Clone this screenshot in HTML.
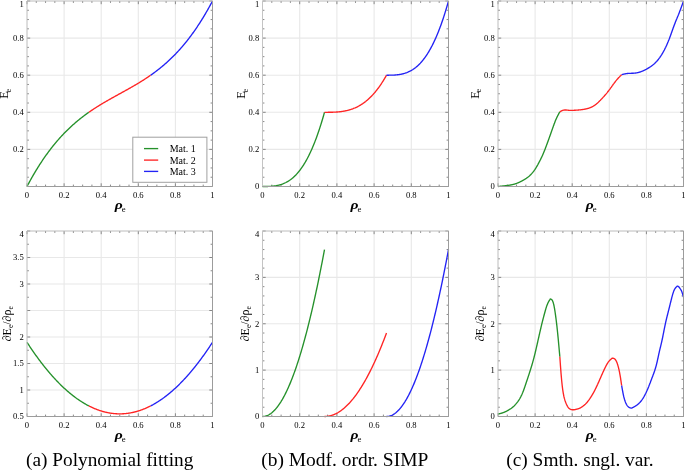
<!DOCTYPE html>
<html><head><meta charset="utf-8"><style>
html,body{margin:0;padding:0;background:#fff;overflow:hidden;width:685px;height:470px;}
svg{display:block;will-change:transform;}
text{font-family:"Liberation Serif",serif;fill:#000;}
.tk{font-size:8.6px;fill:#000;}
.rho{font-size:13.5px;font-weight:bold;font-style:italic;}
.rsub{font-size:8.8px;}
.yl{font-size:12.5px;}
.yl .sub{font-size:8.8px;}
.yd{font-size:12px;}
.yd .sub{font-size:7.5px;}
.lg{font-size:10px;}
.cap{font-size:18px;}
</style></head><body>
<svg width="685" height="470" viewBox="0 0 685 470">
<rect width="685" height="470" fill="#fff"/>
<line x1="64.10" y1="1.00" x2="64.10" y2="186.50" stroke="#e8e8e8" stroke-width="1.1"/>
<line x1="101.20" y1="1.00" x2="101.20" y2="186.50" stroke="#e8e8e8" stroke-width="1.1"/>
<line x1="138.30" y1="1.00" x2="138.30" y2="186.50" stroke="#e8e8e8" stroke-width="1.1"/>
<line x1="175.40" y1="1.00" x2="175.40" y2="186.50" stroke="#e8e8e8" stroke-width="1.1"/>
<line x1="27.00" y1="149.40" x2="212.50" y2="149.40" stroke="#e8e8e8" stroke-width="1.1"/>
<line x1="27.00" y1="112.30" x2="212.50" y2="112.30" stroke="#e8e8e8" stroke-width="1.1"/>
<line x1="27.00" y1="75.20" x2="212.50" y2="75.20" stroke="#e8e8e8" stroke-width="1.1"/>
<line x1="27.00" y1="38.10" x2="212.50" y2="38.10" stroke="#e8e8e8" stroke-width="1.1"/>
<path d="M27.00 186.50v-3.2M27.00 1.00v3.2M36.27 186.50v-1.9M36.27 1.00v1.9M45.55 186.50v-1.9M45.55 1.00v1.9M54.83 186.50v-1.9M54.83 1.00v1.9M64.10 186.50v-3.2M64.10 1.00v3.2M73.38 186.50v-1.9M73.38 1.00v1.9M82.65 186.50v-1.9M82.65 1.00v1.9M91.92 186.50v-1.9M91.92 1.00v1.9M101.20 186.50v-3.2M101.20 1.00v3.2M110.48 186.50v-1.9M110.48 1.00v1.9M119.75 186.50v-1.9M119.75 1.00v1.9M129.03 186.50v-1.9M129.03 1.00v1.9M138.30 186.50v-3.2M138.30 1.00v3.2M147.57 186.50v-1.9M147.57 1.00v1.9M156.85 186.50v-1.9M156.85 1.00v1.9M166.12 186.50v-1.9M166.12 1.00v1.9M175.40 186.50v-3.2M175.40 1.00v3.2M184.67 186.50v-1.9M184.67 1.00v1.9M193.95 186.50v-1.9M193.95 1.00v1.9M203.22 186.50v-1.9M203.22 1.00v1.9M212.50 186.50v-3.2M212.50 1.00v3.2M27.00 177.22h1.9M212.50 177.22h-1.9M27.00 167.95h1.9M212.50 167.95h-1.9M27.00 158.68h1.9M212.50 158.68h-1.9M27.00 140.12h1.9M212.50 140.12h-1.9M27.00 130.85h1.9M212.50 130.85h-1.9M27.00 121.57h1.9M212.50 121.57h-1.9M27.00 103.02h1.9M212.50 103.02h-1.9M27.00 93.75h1.9M212.50 93.75h-1.9M27.00 84.47h1.9M212.50 84.47h-1.9M27.00 65.92h1.9M212.50 65.92h-1.9M27.00 56.65h1.9M212.50 56.65h-1.9M27.00 47.38h1.9M212.50 47.38h-1.9M27.00 28.82h1.9M212.50 28.82h-1.9M27.00 19.55h1.9M212.50 19.55h-1.9M27.00 10.27h1.9M212.50 10.27h-1.9M27.00 149.40h3.2M212.50 149.40h-3.2M27.00 112.30h3.2M212.50 112.30h-3.2M27.00 75.20h3.2M212.50 75.20h-3.2M27.00 38.10h3.2M212.50 38.10h-3.2M27.00 1.00h3.2M212.50 1.00h-3.2" stroke="#7c7c7c" stroke-width="0.9" fill="none"/>
<polyline points="27.00,186.50 27.52,185.52 28.04,184.54 28.56,183.57 29.08,182.61 29.60,181.66 30.12,180.72 30.64,179.78 31.16,178.85 31.68,177.93 32.20,177.01 32.72,176.11 33.24,175.21 33.75,174.31 34.27,173.43 34.79,172.55 35.31,171.68 35.83,170.82 36.35,169.96 36.87,169.11 37.39,168.27 37.91,167.43 38.43,166.60 38.95,165.78 39.47,164.97 39.99,164.16 40.51,163.36 41.03,162.56 41.55,161.78 42.07,161.00 42.59,160.22 43.11,159.45 43.63,158.69 44.15,157.94 44.67,157.19 45.19,156.45 45.71,155.71 46.23,154.98 46.75,154.26 47.26,153.54 47.78,152.83 48.30,152.12 48.82,151.42 49.34,150.73 49.86,150.04 50.38,149.36 50.90,148.69 51.42,148.02 51.94,147.35 52.46,146.70 52.98,146.04 53.50,145.40 54.02,144.76 54.54,144.12 55.06,143.49 55.58,142.87 56.10,142.25 56.62,141.64 57.14,141.03 57.66,140.42 58.18,139.83 58.70,139.23 59.22,138.65 59.74,138.07 60.25,137.49 60.77,136.92 61.29,136.35 61.81,135.79 62.33,135.23 62.85,134.68 63.37,134.13 63.89,133.59 64.41,133.05 64.93,132.52 65.45,131.99 65.97,131.47 66.49,130.95 67.01,130.43 67.53,129.92 68.05,129.41 68.57,128.91 69.09,128.42 69.61,127.92 70.13,127.43 70.65,126.95 71.17,126.47 71.69,125.99 72.21,125.52 72.73,125.05 73.25,124.59 73.76,124.13 74.28,123.67 74.80,123.22 75.32,122.77 75.84,122.33 76.36,121.89 76.88,121.45 77.40,121.01 77.92,120.58 78.44,120.16 78.96,119.73 79.48,119.31 80.00,118.90 80.52,118.49 81.04,118.08 81.56,117.67 82.08,117.27 82.60,116.87 83.12,116.47 83.64,116.08 84.16,115.68 84.68,115.30 85.20,114.91 85.72,114.53 86.24,114.15 86.75,113.78 87.27,113.40 87.79,113.03 88.31,112.67 88.83,112.30" fill="none" stroke="#25912b" stroke-width="1.35" stroke-linejoin="round" stroke-linecap="butt"/>
<polyline points="88.83,112.30 89.35,111.94 89.87,111.58 90.39,111.22 90.91,110.87 91.43,110.51 91.95,110.16 92.47,109.82 92.99,109.47 93.51,109.13 94.03,108.79 94.55,108.45 95.07,108.11 95.59,107.78 96.11,107.44 96.63,107.11 97.15,106.79 97.67,106.46 98.19,106.13 98.71,105.81 99.23,105.49 99.75,105.17 100.26,104.85 100.78,104.54 101.30,104.22 101.82,103.91 102.34,103.60 102.86,103.29 103.38,102.98 103.90,102.67 104.42,102.37 104.94,102.06 105.46,101.76 105.98,101.46 106.50,101.16 107.02,100.86 107.54,100.56 108.06,100.26 108.58,99.97 109.10,99.67 109.62,99.38 110.14,99.08 110.66,98.79 111.18,98.50 111.70,98.21 112.22,97.92 112.74,97.63 113.25,97.34 113.77,97.05 114.29,96.76 114.81,96.47 115.33,96.18 115.85,95.90 116.37,95.61 116.89,95.32 117.41,95.04 117.93,94.75 118.45,94.46 118.97,94.18 119.49,93.89 120.01,93.61 120.53,93.32 121.05,93.04 121.57,92.75 122.09,92.46 122.61,92.18 123.13,91.89 123.65,91.60 124.17,91.32 124.69,91.03 125.21,90.74 125.73,90.45 126.25,90.16 126.76,89.87 127.28,89.58 127.80,89.29 128.32,89.00 128.84,88.71 129.36,88.42 129.88,88.12 130.40,87.83 130.92,87.53 131.44,87.24 131.96,86.94 132.48,86.64 133.00,86.34 133.52,86.04 134.04,85.74 134.56,85.44 135.08,85.13 135.60,84.83 136.12,84.52 136.64,84.21 137.16,83.90 137.68,83.59 138.20,83.28 138.72,82.96 139.24,82.65 139.75,82.33 140.27,82.01 140.79,81.69 141.31,81.37 141.83,81.04 142.35,80.71 142.87,80.39 143.39,80.06 143.91,79.72 144.43,79.39 144.95,79.05 145.47,78.71 145.99,78.37 146.51,78.03 147.03,77.68 147.55,77.34 148.07,76.99 148.59,76.63 149.11,76.28 149.63,75.92 150.15,75.56 150.67,75.20" fill="none" stroke="#ff2424" stroke-width="1.35" stroke-linejoin="round" stroke-linecap="butt"/>
<polyline points="150.67,75.20 151.19,74.83 151.71,74.47 152.23,74.10 152.75,73.72 153.26,73.35 153.78,72.97 154.30,72.59 154.82,72.20 155.34,71.82 155.86,71.42 156.38,71.03 156.90,70.63 157.42,70.23 157.94,69.83 158.46,69.42 158.98,69.01 159.50,68.60 160.02,68.19 160.54,67.77 161.06,67.34 161.58,66.92 162.10,66.49 162.62,66.05 163.14,65.61 163.66,65.17 164.18,64.73 164.70,64.28 165.22,63.83 165.74,63.37 166.25,62.91 166.77,62.45 167.29,61.98 167.81,61.51 168.33,61.03 168.85,60.55 169.37,60.07 169.89,59.58 170.41,59.08 170.93,58.59 171.45,58.09 171.97,57.58 172.49,57.07 173.01,56.55 173.53,56.03 174.05,55.51 174.57,54.98 175.09,54.45 175.61,53.91 176.13,53.37 176.65,52.82 177.17,52.27 177.69,51.71 178.21,51.15 178.73,50.58 179.25,50.01 179.76,49.43 180.28,48.85 180.80,48.27 181.32,47.67 181.84,47.08 182.36,46.47 182.88,45.86 183.40,45.25 183.92,44.63 184.44,44.01 184.96,43.38 185.48,42.74 186.00,42.10 186.52,41.46 187.04,40.80 187.56,40.15 188.08,39.48 188.60,38.81 189.12,38.14 189.64,37.46 190.16,36.77 190.68,36.08 191.20,35.38 191.72,34.67 192.24,33.96 192.75,33.24 193.27,32.52 193.79,31.79 194.31,31.05 194.83,30.31 195.35,29.56 195.87,28.81 196.39,28.05 196.91,27.28 197.43,26.50 197.95,25.72 198.47,24.94 198.99,24.14 199.51,23.34 200.03,22.53 200.55,21.72 201.07,20.90 201.59,20.07 202.11,19.23 202.63,18.39 203.15,17.54 203.67,16.68 204.19,15.82 204.71,14.95 205.23,14.07 205.75,13.19 206.26,12.29 206.78,11.39 207.30,10.49 207.82,9.57 208.34,8.65 208.86,7.72 209.38,6.78 209.90,5.84 210.42,4.89 210.94,3.93 211.46,2.96 211.98,1.98 212.50,1.00" fill="none" stroke="#2323f5" stroke-width="1.35" stroke-linejoin="round" stroke-linecap="butt"/>
<line x1="27.00" y1="1.00" x2="212.50" y2="1.00" stroke="#bcbcbc" stroke-width="1"/>
<line x1="27.00" y1="1.00" x2="27.00" y2="186.50" stroke="#bcbcbc" stroke-width="1"/>
<line x1="27.00" y1="186.50" x2="212.50" y2="186.50" stroke="#9c9c9c" stroke-width="1"/>
<line x1="212.50" y1="1.00" x2="212.50" y2="186.50" stroke="#9c9c9c" stroke-width="1"/>
<text x="27.00" y="197.70" class="tk" text-anchor="middle">0</text>
<text x="64.10" y="197.70" class="tk" text-anchor="middle">0.2</text>
<text x="101.20" y="197.70" class="tk" text-anchor="middle">0.4</text>
<text x="138.30" y="197.70" class="tk" text-anchor="middle">0.6</text>
<text x="175.40" y="197.70" class="tk" text-anchor="middle">0.8</text>
<text x="212.50" y="197.70" class="tk" text-anchor="middle">1</text>
<text x="23.80" y="152.30" class="tk" text-anchor="end">0.2</text>
<text x="23.80" y="115.20" class="tk" text-anchor="end">0.4</text>
<text x="23.80" y="78.10" class="tk" text-anchor="end">0.6</text>
<text x="23.80" y="41.00" class="tk" text-anchor="end">0.8</text>
<text x="23.80" y="6.60" class="tk" text-anchor="end">1</text>
<text transform="translate(114.75,208.80) scale(1.15,1)" class="rho">&#x3C1;</text>
<text x="121.65" y="211.50" class="rsub">e</text>
<text transform="translate(8.00,93.75) rotate(-90)" class="yl" text-anchor="middle">E<tspan class="sub" dy="2.9" dx="-1.3">e</tspan></text>
<line x1="299.70" y1="1.00" x2="299.70" y2="186.50" stroke="#e8e8e8" stroke-width="1.1"/>
<line x1="336.90" y1="1.00" x2="336.90" y2="186.50" stroke="#e8e8e8" stroke-width="1.1"/>
<line x1="374.10" y1="1.00" x2="374.10" y2="186.50" stroke="#e8e8e8" stroke-width="1.1"/>
<line x1="411.30" y1="1.00" x2="411.30" y2="186.50" stroke="#e8e8e8" stroke-width="1.1"/>
<line x1="262.50" y1="149.40" x2="448.50" y2="149.40" stroke="#e8e8e8" stroke-width="1.1"/>
<line x1="262.50" y1="112.30" x2="448.50" y2="112.30" stroke="#e8e8e8" stroke-width="1.1"/>
<line x1="262.50" y1="75.20" x2="448.50" y2="75.20" stroke="#e8e8e8" stroke-width="1.1"/>
<line x1="262.50" y1="38.10" x2="448.50" y2="38.10" stroke="#e8e8e8" stroke-width="1.1"/>
<path d="M262.50 186.50v-3.2M262.50 1.00v3.2M271.80 186.50v-1.9M271.80 1.00v1.9M281.10 186.50v-1.9M281.10 1.00v1.9M290.40 186.50v-1.9M290.40 1.00v1.9M299.70 186.50v-3.2M299.70 1.00v3.2M309.00 186.50v-1.9M309.00 1.00v1.9M318.30 186.50v-1.9M318.30 1.00v1.9M327.60 186.50v-1.9M327.60 1.00v1.9M336.90 186.50v-3.2M336.90 1.00v3.2M346.20 186.50v-1.9M346.20 1.00v1.9M355.50 186.50v-1.9M355.50 1.00v1.9M364.80 186.50v-1.9M364.80 1.00v1.9M374.10 186.50v-3.2M374.10 1.00v3.2M383.40 186.50v-1.9M383.40 1.00v1.9M392.70 186.50v-1.9M392.70 1.00v1.9M402.00 186.50v-1.9M402.00 1.00v1.9M411.30 186.50v-3.2M411.30 1.00v3.2M420.60 186.50v-1.9M420.60 1.00v1.9M429.90 186.50v-1.9M429.90 1.00v1.9M439.20 186.50v-1.9M439.20 1.00v1.9M448.50 186.50v-3.2M448.50 1.00v3.2M262.50 177.22h1.9M448.50 177.22h-1.9M262.50 167.95h1.9M448.50 167.95h-1.9M262.50 158.68h1.9M448.50 158.68h-1.9M262.50 140.12h1.9M448.50 140.12h-1.9M262.50 130.85h1.9M448.50 130.85h-1.9M262.50 121.57h1.9M448.50 121.57h-1.9M262.50 103.02h1.9M448.50 103.02h-1.9M262.50 93.75h1.9M448.50 93.75h-1.9M262.50 84.47h1.9M448.50 84.47h-1.9M262.50 65.92h1.9M448.50 65.92h-1.9M262.50 56.65h1.9M448.50 56.65h-1.9M262.50 47.38h1.9M448.50 47.38h-1.9M262.50 28.82h1.9M448.50 28.82h-1.9M262.50 19.55h1.9M448.50 19.55h-1.9M262.50 10.27h1.9M448.50 10.27h-1.9M262.50 186.50h3.2M448.50 186.50h-3.2M262.50 149.40h3.2M448.50 149.40h-3.2M262.50 112.30h3.2M448.50 112.30h-3.2M262.50 75.20h3.2M448.50 75.20h-3.2M262.50 38.10h3.2M448.50 38.10h-3.2M262.50 1.00h3.2M448.50 1.00h-3.2" stroke="#7c7c7c" stroke-width="0.9" fill="none"/>
<polyline points="262.50,186.50 263.02,186.50 263.54,186.50 264.06,186.50 264.58,186.50 265.11,186.49 265.63,186.49 266.15,186.48 266.67,186.48 267.19,186.47 267.71,186.46 268.23,186.44 268.75,186.42 269.27,186.40 269.79,186.38 270.32,186.35 270.84,186.32 271.36,186.28 271.88,186.24 272.40,186.20 272.92,186.15 273.44,186.09 273.96,186.03 274.48,185.96 275.00,185.89 275.53,185.81 276.05,185.73 276.57,185.63 277.09,185.53 277.61,185.43 278.13,185.31 278.65,185.19 279.17,185.06 279.69,184.92 280.21,184.77 280.74,184.61 281.26,184.45 281.78,184.27 282.30,184.08 282.82,183.89 283.34,183.68 283.86,183.47 284.38,183.24 284.90,183.00 285.42,182.75 285.95,182.49 286.47,182.21 286.99,181.93 287.51,181.63 288.03,181.32 288.55,181.00 289.07,180.66 289.59,180.31 290.11,179.94 290.63,179.57 291.16,179.17 291.68,178.77 292.20,178.35 292.72,177.91 293.24,177.46 293.76,176.99 294.28,176.51 294.80,176.01 295.32,175.49 295.84,174.96 296.37,174.41 296.89,173.84 297.41,173.26 297.93,172.66 298.45,172.04 298.97,171.40 299.49,170.74 300.01,170.07 300.53,169.37 301.05,168.66 301.58,167.92 302.10,167.17 302.62,166.40 303.14,165.60 303.66,164.79 304.18,163.96 304.70,163.10 305.22,162.22 305.74,161.32 306.26,160.40 306.79,159.46 307.31,158.49 307.83,157.51 308.35,156.49 308.87,155.46 309.39,154.40 309.91,153.32 310.43,152.21 310.95,151.08 311.47,149.93 312.00,148.75 312.52,147.54 313.04,146.31 313.56,145.06 314.08,143.78 314.60,142.47 315.12,141.13 315.64,139.77 316.16,138.39 316.68,136.97 317.21,135.53 317.73,134.06 318.25,132.56 318.77,131.03 319.29,129.48 319.81,127.89 320.33,126.28 320.85,124.64 321.37,122.97 321.89,121.27 322.42,119.53 322.94,117.77 323.46,115.98 323.98,114.15 324.50,112.30" fill="none" stroke="#25912b" stroke-width="1.35" stroke-linejoin="round" stroke-linecap="butt"/>
<polyline points="324.50,112.30 325.02,112.30 325.54,112.30 326.06,112.30 326.58,112.30 327.11,112.30 327.63,112.30 328.15,112.29 328.67,112.29 329.19,112.28 329.71,112.28 330.23,112.27 330.75,112.26 331.27,112.25 331.79,112.24 332.32,112.23 332.84,112.21 333.36,112.19 333.88,112.17 334.40,112.15 334.92,112.12 335.44,112.10 335.96,112.07 336.48,112.03 337.00,112.00 337.53,111.96 338.05,111.91 338.57,111.87 339.09,111.82 339.61,111.76 340.13,111.71 340.65,111.64 341.17,111.58 341.69,111.51 342.21,111.43 342.74,111.36 343.26,111.27 343.78,111.18 344.30,111.09 344.82,110.99 345.34,110.89 345.86,110.78 346.38,110.67 346.90,110.55 347.42,110.42 347.95,110.29 348.47,110.16 348.99,110.01 349.51,109.87 350.03,109.71 350.55,109.55 351.07,109.38 351.59,109.20 352.11,109.02 352.63,108.83 353.16,108.64 353.68,108.43 354.20,108.22 354.72,108.00 355.24,107.78 355.76,107.54 356.28,107.30 356.80,107.05 357.32,106.80 357.84,106.53 358.37,106.25 358.89,105.97 359.41,105.68 359.93,105.38 360.45,105.07 360.97,104.75 361.49,104.42 362.01,104.08 362.53,103.74 363.05,103.38 363.58,103.01 364.10,102.64 364.62,102.25 365.14,101.85 365.66,101.45 366.18,101.03 366.70,100.60 367.22,100.16 367.74,99.71 368.26,99.25 368.79,98.78 369.31,98.30 369.83,97.80 370.35,97.30 370.87,96.78 371.39,96.25 371.91,95.71 372.43,95.16 372.95,94.59 373.47,94.01 374.00,93.42 374.52,92.82 375.04,92.21 375.56,91.58 376.08,90.94 376.60,90.28 377.12,89.62 377.64,88.94 378.16,88.24 378.68,87.54 379.21,86.81 379.73,86.08 380.25,85.33 380.77,84.57 381.29,83.79 381.81,83.00 382.33,82.19 382.85,81.37 383.37,80.53 383.89,79.68 384.42,78.82 384.94,77.94 385.46,77.04 385.98,76.13 386.50,75.20" fill="none" stroke="#ff2424" stroke-width="1.35" stroke-linejoin="round" stroke-linecap="butt"/>
<polyline points="386.50,75.20 387.02,75.20 387.54,75.20 388.06,75.20 388.58,75.20 389.11,75.19 389.63,75.19 390.15,75.18 390.67,75.18 391.19,75.17 391.71,75.16 392.23,75.14 392.75,75.12 393.27,75.10 393.79,75.08 394.32,75.05 394.84,75.02 395.36,74.98 395.88,74.94 396.40,74.90 396.92,74.85 397.44,74.79 397.96,74.73 398.48,74.66 399.00,74.59 399.53,74.51 400.05,74.43 400.57,74.33 401.09,74.23 401.61,74.13 402.13,74.01 402.65,73.89 403.17,73.76 403.69,73.62 404.21,73.47 404.74,73.31 405.26,73.15 405.78,72.97 406.30,72.78 406.82,72.59 407.34,72.38 407.86,72.17 408.38,71.94 408.90,71.70 409.42,71.45 409.95,71.19 410.47,70.91 410.99,70.63 411.51,70.33 412.03,70.02 412.55,69.70 413.07,69.36 413.59,69.01 414.11,68.64 414.63,68.27 415.16,67.87 415.68,67.47 416.20,67.05 416.72,66.61 417.24,66.16 417.76,65.69 418.28,65.21 418.80,64.71 419.32,64.19 419.84,63.66 420.37,63.11 420.89,62.54 421.41,61.96 421.93,61.36 422.45,60.74 422.97,60.10 423.49,59.44 424.01,58.77 424.53,58.07 425.05,57.36 425.58,56.62 426.10,55.87 426.62,55.10 427.14,54.30 427.66,53.49 428.18,52.66 428.70,51.80 429.22,50.92 429.74,50.02 430.26,49.10 430.79,48.16 431.31,47.19 431.83,46.21 432.35,45.19 432.87,44.16 433.39,43.10 433.91,42.02 434.43,40.91 434.95,39.78 435.47,38.63 436.00,37.45 436.52,36.24 437.04,35.01 437.56,33.76 438.08,32.48 438.60,31.17 439.12,29.83 439.64,28.47 440.16,27.09 440.68,25.67 441.21,24.23 441.73,22.76 442.25,21.26 442.77,19.73 443.29,18.18 443.81,16.59 444.33,14.98 444.85,13.34 445.37,11.67 445.89,9.97 446.42,8.23 446.94,6.47 447.46,4.68 447.98,2.85 448.50,1.00" fill="none" stroke="#2323f5" stroke-width="1.35" stroke-linejoin="round" stroke-linecap="butt"/>
<line x1="262.50" y1="1.00" x2="448.50" y2="1.00" stroke="#bcbcbc" stroke-width="1"/>
<line x1="262.50" y1="1.00" x2="262.50" y2="186.50" stroke="#c4c4c4" stroke-width="1"/>
<line x1="262.50" y1="186.50" x2="448.50" y2="186.50" stroke="#9c9c9c" stroke-width="1"/>
<line x1="448.50" y1="1.00" x2="448.50" y2="186.50" stroke="#9c9c9c" stroke-width="1"/>
<text x="262.50" y="197.70" class="tk" text-anchor="middle">0</text>
<text x="299.70" y="197.70" class="tk" text-anchor="middle">0.2</text>
<text x="336.90" y="197.70" class="tk" text-anchor="middle">0.4</text>
<text x="374.10" y="197.70" class="tk" text-anchor="middle">0.6</text>
<text x="411.30" y="197.70" class="tk" text-anchor="middle">0.8</text>
<text x="448.50" y="197.70" class="tk" text-anchor="middle">1</text>
<text x="259.30" y="189.40" class="tk" text-anchor="end">0</text>
<text x="259.30" y="152.30" class="tk" text-anchor="end">0.2</text>
<text x="259.30" y="115.20" class="tk" text-anchor="end">0.4</text>
<text x="259.30" y="78.10" class="tk" text-anchor="end">0.6</text>
<text x="259.30" y="41.00" class="tk" text-anchor="end">0.8</text>
<text x="259.30" y="6.60" class="tk" text-anchor="end">1</text>
<text transform="translate(350.50,208.80) scale(1.15,1)" class="rho">&#x3C1;</text>
<text x="357.40" y="211.50" class="rsub">e</text>
<text transform="translate(245.10,93.75) rotate(-90)" class="yl" text-anchor="middle">E<tspan class="sub" dy="2.9" dx="-1.3">e</tspan></text>
<line x1="535.10" y1="1.00" x2="535.10" y2="186.50" stroke="#e8e8e8" stroke-width="1.1"/>
<line x1="572.20" y1="1.00" x2="572.20" y2="186.50" stroke="#e8e8e8" stroke-width="1.1"/>
<line x1="609.30" y1="1.00" x2="609.30" y2="186.50" stroke="#e8e8e8" stroke-width="1.1"/>
<line x1="646.40" y1="1.00" x2="646.40" y2="186.50" stroke="#e8e8e8" stroke-width="1.1"/>
<line x1="498.00" y1="149.40" x2="683.50" y2="149.40" stroke="#e8e8e8" stroke-width="1.1"/>
<line x1="498.00" y1="112.30" x2="683.50" y2="112.30" stroke="#e8e8e8" stroke-width="1.1"/>
<line x1="498.00" y1="75.20" x2="683.50" y2="75.20" stroke="#e8e8e8" stroke-width="1.1"/>
<line x1="498.00" y1="38.10" x2="683.50" y2="38.10" stroke="#e8e8e8" stroke-width="1.1"/>
<path d="M498.00 186.50v-3.2M498.00 1.00v3.2M507.27 186.50v-1.9M507.27 1.00v1.9M516.55 186.50v-1.9M516.55 1.00v1.9M525.83 186.50v-1.9M525.83 1.00v1.9M535.10 186.50v-3.2M535.10 1.00v3.2M544.38 186.50v-1.9M544.38 1.00v1.9M553.65 186.50v-1.9M553.65 1.00v1.9M562.92 186.50v-1.9M562.92 1.00v1.9M572.20 186.50v-3.2M572.20 1.00v3.2M581.48 186.50v-1.9M581.48 1.00v1.9M590.75 186.50v-1.9M590.75 1.00v1.9M600.02 186.50v-1.9M600.02 1.00v1.9M609.30 186.50v-3.2M609.30 1.00v3.2M618.58 186.50v-1.9M618.58 1.00v1.9M627.85 186.50v-1.9M627.85 1.00v1.9M637.12 186.50v-1.9M637.12 1.00v1.9M646.40 186.50v-3.2M646.40 1.00v3.2M655.67 186.50v-1.9M655.67 1.00v1.9M664.95 186.50v-1.9M664.95 1.00v1.9M674.23 186.50v-1.9M674.23 1.00v1.9M683.50 186.50v-3.2M683.50 1.00v3.2M498.00 177.22h1.9M683.50 177.22h-1.9M498.00 167.95h1.9M683.50 167.95h-1.9M498.00 158.68h1.9M683.50 158.68h-1.9M498.00 140.12h1.9M683.50 140.12h-1.9M498.00 130.85h1.9M683.50 130.85h-1.9M498.00 121.57h1.9M683.50 121.57h-1.9M498.00 103.02h1.9M683.50 103.02h-1.9M498.00 93.75h1.9M683.50 93.75h-1.9M498.00 84.47h1.9M683.50 84.47h-1.9M498.00 65.92h1.9M683.50 65.92h-1.9M498.00 56.65h1.9M683.50 56.65h-1.9M498.00 47.38h1.9M683.50 47.38h-1.9M498.00 28.82h1.9M683.50 28.82h-1.9M498.00 19.55h1.9M683.50 19.55h-1.9M498.00 10.27h1.9M683.50 10.27h-1.9M498.00 186.50h3.2M683.50 186.50h-3.2M498.00 149.40h3.2M683.50 149.40h-3.2M498.00 112.30h3.2M683.50 112.30h-3.2M498.00 75.20h3.2M683.50 75.20h-3.2M498.00 38.10h3.2M683.50 38.10h-3.2M498.00 1.00h3.2M683.50 1.00h-3.2" stroke="#7c7c7c" stroke-width="0.9" fill="none"/>
<polyline points="498.00,186.50 498.21,186.48 498.41,186.46 498.62,186.44 498.83,186.42 499.03,186.40 499.24,186.38 499.45,186.35 499.65,186.33 499.86,186.31 500.07,186.29 500.27,186.27 500.48,186.25 500.69,186.23 500.90,186.21 501.10,186.19 501.31,186.16 501.52,186.14 501.72,186.12 501.93,186.10 502.14,186.08 502.34,186.06 502.55,186.03 502.76,186.01 502.96,185.99 503.17,185.97 503.38,185.94 503.58,185.92 503.79,185.90 504.00,185.88 504.20,185.85 504.41,185.83 504.62,185.80 504.82,185.78 505.03,185.76 505.24,185.73 505.44,185.71 505.65,185.68 505.86,185.66 506.07,185.63 506.27,185.61 506.48,185.58 506.69,185.56 506.89,185.53 507.10,185.50 507.31,185.48 507.51,185.45 507.72,185.42 507.93,185.39 508.13,185.36 508.34,185.33 508.55,185.30 508.75,185.27 508.96,185.24 509.17,185.21 509.37,185.18 509.58,185.15 509.79,185.11 509.99,185.08 510.20,185.04 510.41,185.01 510.61,184.97 510.82,184.93 511.03,184.89 511.24,184.85 511.44,184.81 511.65,184.77 511.86,184.73 512.06,184.68 512.27,184.64 512.48,184.59 512.68,184.55 512.89,184.50 513.10,184.45 513.30,184.40 513.51,184.34 513.72,184.29 513.92,184.23 514.13,184.18 514.34,184.12 514.54,184.06 514.75,184.00 514.96,183.93 515.16,183.87 515.37,183.80 515.58,183.73 515.78,183.67 515.99,183.59 516.20,183.52 516.41,183.45 516.61,183.37 516.82,183.29 517.03,183.22 517.23,183.14 517.44,183.05 517.65,182.97 517.85,182.89 518.06,182.80 518.27,182.71 518.47,182.62 518.68,182.53 518.89,182.44 519.09,182.35 519.30,182.26 519.51,182.16 519.71,182.06 519.92,181.97 520.13,181.87 520.33,181.77 520.54,181.66 520.75,181.56 520.95,181.46 521.16,181.35 521.37,181.24 521.58,181.13 521.78,181.02 521.99,180.91 522.20,180.80 522.40,180.69 522.61,180.58 522.82,180.46 523.02,180.34 523.23,180.23 523.44,180.11 523.64,179.99 523.85,179.87 524.06,179.75 524.26,179.62 524.47,179.50 524.68,179.37 524.88,179.25 525.09,179.12 525.30,178.99 525.50,178.85 525.71,178.72 525.92,178.58 526.12,178.45 526.33,178.31 526.54,178.16 526.75,178.02 526.95,177.87 527.16,177.72 527.37,177.57 527.57,177.41 527.78,177.26 527.99,177.10 528.19,176.93 528.40,176.77 528.61,176.60 528.81,176.42 529.02,176.25 529.23,176.07 529.43,175.88 529.64,175.70 529.85,175.51 530.05,175.31 530.26,175.12 530.47,174.92 530.67,174.71 530.88,174.50 531.09,174.29 531.29,174.07 531.50,173.85 531.71,173.62 531.92,173.39 532.12,173.15 532.33,172.91 532.54,172.67 532.74,172.42 532.95,172.16 533.16,171.90 533.36,171.64 533.57,171.37 533.78,171.09 533.98,170.81 534.19,170.53 534.40,170.23 534.60,169.94 534.81,169.63 535.02,169.32 535.22,169.01 535.43,168.69 535.64,168.36 535.84,168.03 536.05,167.70 536.26,167.35 536.46,167.01 536.67,166.66 536.88,166.30 537.09,165.94 537.29,165.58 537.50,165.21 537.71,164.84 537.91,164.46 538.12,164.08 538.33,163.70 538.53,163.32 538.74,162.93 538.95,162.54 539.15,162.15 539.36,161.75 539.57,161.35 539.77,160.95 539.98,160.55 540.19,160.15 540.39,159.74 540.60,159.33 540.81,158.91 541.01,158.49 541.22,158.07 541.43,157.64 541.63,157.21 541.84,156.77 542.05,156.33 542.26,155.89 542.46,155.43 542.67,154.98 542.88,154.51 543.08,154.04 543.29,153.56 543.50,153.07 543.70,152.58 543.91,152.08 544.12,151.57 544.32,151.06 544.53,150.54 544.74,150.01 544.94,149.48 545.15,148.94 545.36,148.39 545.56,147.85 545.77,147.30 545.98,146.74 546.18,146.19 546.39,145.63 546.60,145.07 546.80,144.51 547.01,143.95 547.22,143.39 547.43,142.82 547.63,142.26 547.84,141.70 548.05,141.14 548.25,140.57 548.46,140.00 548.67,139.44 548.87,138.87 549.08,138.30 549.29,137.73 549.49,137.15 549.70,136.58 549.91,136.00 550.11,135.42 550.32,134.83 550.53,134.25 550.73,133.66 550.94,133.08 551.15,132.49 551.35,131.90 551.56,131.31 551.77,130.72 551.97,130.13 552.18,129.54 552.39,128.96 552.60,128.37 552.80,127.79 553.01,127.20 553.22,126.62 553.42,126.05 553.63,125.47 553.84,124.91 554.04,124.34 554.25,123.78 554.46,123.23 554.66,122.69 554.87,122.15 555.08,121.62 555.28,121.10 555.49,120.59 555.70,120.09 555.90,119.61 556.11,119.13 556.32,118.66 556.52,118.20 556.73,117.75 556.94,117.32 557.14,116.89 557.35,116.46 557.56,116.05 557.77,115.64 557.97,115.24 558.18,114.84 558.39,114.45 558.59,114.06 558.80,113.68 559.01,113.29 559.21,112.92 559.42,112.54 559.63,112.16 559.83,111.80" fill="none" stroke="#25912b" stroke-width="1.35" stroke-linejoin="round" stroke-linecap="butt"/>
<polyline points="559.83,111.80 560.04,111.68 560.25,111.57 560.45,111.45 560.66,111.34 560.87,111.23 561.07,111.13 561.28,111.02 561.49,110.92 561.69,110.82 561.90,110.73 562.11,110.64 562.31,110.55 562.52,110.47 562.73,110.40 562.94,110.33 563.14,110.26 563.35,110.21 563.56,110.16 563.76,110.12 563.97,110.08 564.18,110.05 564.38,110.03 564.59,110.01 564.80,110.00 565.00,109.99 565.21,109.99 565.42,109.98 565.62,109.99 565.83,110.00 566.04,110.01 566.24,110.02 566.45,110.04 566.66,110.06 566.86,110.08 567.07,110.10 567.28,110.12 567.48,110.15 567.69,110.17 567.90,110.20 568.11,110.22 568.31,110.25 568.52,110.27 568.73,110.30 568.93,110.32 569.14,110.34 569.35,110.36 569.55,110.37 569.76,110.39 569.97,110.40 570.17,110.41 570.38,110.41 570.59,110.41 570.79,110.41 571.00,110.41 571.21,110.41 571.41,110.40 571.62,110.40 571.83,110.39 572.03,110.38 572.24,110.37 572.45,110.36 572.65,110.36 572.86,110.35 573.07,110.34 573.28,110.33 573.48,110.32 573.69,110.31 573.90,110.30 574.10,110.29 574.31,110.28 574.52,110.27 574.72,110.26 574.93,110.25 575.14,110.24 575.34,110.22 575.55,110.21 575.76,110.20 575.96,110.19 576.17,110.18 576.38,110.16 576.58,110.15 576.79,110.13 577.00,110.12 577.20,110.11 577.41,110.09 577.62,110.07 577.82,110.06 578.03,110.04 578.24,110.03 578.45,110.01 578.65,109.99 578.86,109.97 579.07,109.95 579.27,109.93 579.48,109.91 579.69,109.89 579.89,109.87 580.10,109.85 580.31,109.83 580.51,109.80 580.72,109.78 580.93,109.75 581.13,109.73 581.34,109.70 581.55,109.68 581.75,109.65 581.96,109.62 582.17,109.59 582.37,109.56 582.58,109.53 582.79,109.50 582.99,109.47 583.20,109.44 583.41,109.40 583.62,109.37 583.82,109.33 584.03,109.30 584.24,109.26 584.44,109.22 584.65,109.18 584.86,109.14 585.06,109.10 585.27,109.06 585.48,109.02 585.68,108.98 585.89,108.93 586.10,108.89 586.30,108.84 586.51,108.79 586.72,108.74 586.92,108.69 587.13,108.64 587.34,108.59 587.54,108.53 587.75,108.48 587.96,108.42 588.16,108.36 588.37,108.30 588.58,108.24 588.79,108.17 588.99,108.11 589.20,108.04 589.41,107.97 589.61,107.89 589.82,107.82 590.03,107.74 590.23,107.66 590.44,107.58 590.65,107.50 590.85,107.41 591.06,107.32 591.27,107.23 591.47,107.14 591.68,107.04 591.89,106.94 592.09,106.84 592.30,106.73 592.51,106.62 592.71,106.51 592.92,106.40 593.13,106.28 593.34,106.16 593.54,106.04 593.75,105.91 593.96,105.78 594.16,105.64 594.37,105.51 594.58,105.37 594.78,105.22 594.99,105.07 595.20,104.92 595.40,104.76 595.61,104.60 595.82,104.44 596.02,104.27 596.23,104.11 596.44,103.93 596.64,103.76 596.85,103.58 597.06,103.40 597.26,103.21 597.47,103.03 597.68,102.84 597.88,102.65 598.09,102.45 598.30,102.26 598.51,102.06 598.71,101.86 598.92,101.66 599.13,101.45 599.33,101.25 599.54,101.04 599.75,100.84 599.95,100.63 600.16,100.42 600.37,100.21 600.57,99.99 600.78,99.78 600.99,99.57 601.19,99.35 601.40,99.14 601.61,98.92 601.81,98.70 602.02,98.48 602.23,98.26 602.43,98.04 602.64,97.82 602.85,97.59 603.05,97.37 603.26,97.14 603.47,96.91 603.68,96.68 603.88,96.45 604.09,96.22 604.30,95.99 604.50,95.75 604.71,95.52 604.92,95.28 605.12,95.04 605.33,94.80 605.54,94.55 605.74,94.31 605.95,94.06 606.16,93.82 606.36,93.57 606.57,93.32 606.78,93.07 606.98,92.81 607.19,92.56 607.40,92.30 607.60,92.04 607.81,91.78 608.02,91.51 608.22,91.25 608.43,90.98 608.64,90.72 608.85,90.44 609.05,90.17 609.26,89.90 609.47,89.62 609.67,89.34 609.88,89.07 610.09,88.78 610.29,88.50 610.50,88.21 610.71,87.93 610.91,87.64 611.12,87.35 611.33,87.06 611.53,86.77 611.74,86.48 611.95,86.19 612.15,85.90 612.36,85.61 612.57,85.33 612.77,85.04 612.98,84.75 613.19,84.46 613.39,84.18 613.60,83.90 613.81,83.62 614.02,83.34 614.22,83.06 614.43,82.78 614.64,82.51 614.84,82.24 615.05,81.97 615.26,81.71 615.46,81.45 615.67,81.19 615.88,80.93 616.08,80.67 616.29,80.42 616.50,80.17 616.70,79.92 616.91,79.68 617.12,79.43 617.32,79.19 617.53,78.96 617.74,78.72 617.94,78.49 618.15,78.26 618.36,78.03 618.56,77.81 618.77,77.58 618.98,77.37 619.19,77.15 619.39,76.93 619.60,76.72 619.81,76.51 620.01,76.30 620.22,76.09 620.43,75.88 620.63,75.67 620.84,75.47 621.05,75.26 621.25,75.06 621.46,74.85 621.67,74.65" fill="none" stroke="#ff2424" stroke-width="1.35" stroke-linejoin="round" stroke-linecap="butt"/>
<polyline points="621.67,74.65 621.87,74.59 622.08,74.54 622.29,74.49 622.49,74.44 622.70,74.39 622.91,74.34 623.11,74.29 623.32,74.24 623.53,74.19 623.73,74.14 623.94,74.09 624.15,74.04 624.36,74.00 624.56,73.95 624.77,73.91 624.98,73.87 625.18,73.83 625.39,73.79 625.60,73.75 625.80,73.71 626.01,73.68 626.22,73.64 626.42,73.61 626.63,73.58 626.84,73.56 627.04,73.53 627.25,73.51 627.46,73.48 627.66,73.46 627.87,73.45 628.08,73.43 628.28,73.41 628.49,73.40 628.70,73.39 628.90,73.38 629.11,73.37 629.32,73.36 629.53,73.35 629.73,73.34 629.94,73.33 630.15,73.33 630.35,73.32 630.56,73.32 630.77,73.31 630.97,73.31 631.18,73.30 631.39,73.29 631.59,73.29 631.80,73.28 632.01,73.28 632.21,73.27 632.42,73.26 632.63,73.26 632.83,73.25 633.04,73.24 633.25,73.23 633.45,73.22 633.66,73.20 633.87,73.19 634.07,73.17 634.28,73.16 634.49,73.14 634.70,73.12 634.90,73.10 635.11,73.07 635.32,73.05 635.52,73.02 635.73,72.99 635.94,72.96 636.14,72.93 636.35,72.90 636.56,72.86 636.76,72.83 636.97,72.79 637.18,72.75 637.38,72.70 637.59,72.66 637.80,72.61 638.00,72.57 638.21,72.52 638.42,72.47 638.62,72.41 638.83,72.36 639.04,72.30 639.24,72.24 639.45,72.18 639.66,72.12 639.87,72.06 640.07,71.99 640.28,71.92 640.49,71.85 640.69,71.78 640.90,71.71 641.11,71.64 641.31,71.56 641.52,71.48 641.73,71.40 641.93,71.32 642.14,71.24 642.35,71.15 642.55,71.06 642.76,70.98 642.97,70.89 643.17,70.80 643.38,70.70 643.59,70.61 643.79,70.51 644.00,70.41 644.21,70.32 644.41,70.22 644.62,70.11 644.83,70.01 645.04,69.91 645.24,69.80 645.45,69.69 645.66,69.59 645.86,69.48 646.07,69.37 646.28,69.25 646.48,69.14 646.69,69.03 646.90,68.91 647.10,68.79 647.31,68.68 647.52,68.56 647.72,68.44 647.93,68.32 648.14,68.19 648.34,68.07 648.55,67.95 648.76,67.82 648.96,67.69 649.17,67.56 649.38,67.43 649.58,67.30 649.79,67.17 650.00,67.03 650.21,66.90 650.41,66.76 650.62,66.62 650.83,66.47 651.03,66.33 651.24,66.18 651.45,66.03 651.65,65.88 651.86,65.73 652.07,65.57 652.27,65.42 652.48,65.26 652.69,65.09 652.89,64.93 653.10,64.76 653.31,64.59 653.51,64.41 653.72,64.24 653.93,64.06 654.13,63.87 654.34,63.69 654.55,63.50 654.75,63.31 654.96,63.11 655.17,62.91 655.38,62.71 655.58,62.50 655.79,62.29 656.00,62.08 656.20,61.86 656.41,61.64 656.62,61.42 656.82,61.19 657.03,60.96 657.24,60.72 657.44,60.48 657.65,60.23 657.86,59.99 658.06,59.73 658.27,59.48 658.48,59.22 658.68,58.95 658.89,58.68 659.10,58.41 659.30,58.13 659.51,57.85 659.72,57.56 659.92,57.27 660.13,56.98 660.34,56.68 660.55,56.38 660.75,56.07 660.96,55.75 661.17,55.44 661.37,55.11 661.58,54.79 661.79,54.45 661.99,54.12 662.20,53.78 662.41,53.43 662.61,53.08 662.82,52.72 663.03,52.36 663.23,52.00 663.44,51.63 663.65,51.25 663.85,50.87 664.06,50.48 664.27,50.09 664.47,49.69 664.68,49.29 664.89,48.88 665.09,48.47 665.30,48.05 665.51,47.63 665.72,47.20 665.92,46.76 666.13,46.32 666.34,45.88 666.54,45.42 666.75,44.97 666.96,44.50 667.16,44.03 667.37,43.56 667.58,43.07 667.78,42.58 667.99,42.09 668.20,41.59 668.40,41.08 668.61,40.57 668.82,40.05 669.02,39.52 669.23,38.99 669.44,38.45 669.64,37.90 669.85,37.35 670.06,36.79 670.26,36.22 670.47,35.65 670.68,35.08 670.89,34.50 671.09,33.92 671.30,33.34 671.51,32.76 671.71,32.17 671.92,31.59 672.13,31.00 672.33,30.42 672.54,29.83 672.75,29.25 672.95,28.67 673.16,28.09 673.37,27.52 673.57,26.95 673.78,26.39 673.99,25.83 674.19,25.28 674.40,24.73 674.61,24.19 674.81,23.66 675.02,23.13 675.23,22.60 675.43,22.08 675.64,21.57 675.85,21.05 676.06,20.54 676.26,20.04 676.47,19.53 676.68,19.03 676.88,18.52 677.09,18.02 677.30,17.52 677.50,17.02 677.71,16.51 677.92,16.01 678.12,15.50 678.33,14.99 678.54,14.48 678.74,13.96 678.95,13.44 679.16,12.91 679.36,12.38 679.57,11.85 679.78,11.31 679.98,10.77 680.19,10.23 680.40,9.68 680.60,9.13 680.81,8.57 681.02,8.02 681.23,7.46 681.43,6.89 681.64,6.33 681.85,5.76 682.05,5.19 682.26,4.62 682.47,4.05 682.67,3.48 682.88,2.91 683.09,2.33 683.29,1.76 683.50,1.19" fill="none" stroke="#2323f5" stroke-width="1.35" stroke-linejoin="round" stroke-linecap="butt"/>
<line x1="498.00" y1="1.00" x2="683.50" y2="1.00" stroke="#bcbcbc" stroke-width="1"/>
<line x1="498.00" y1="1.00" x2="498.00" y2="186.50" stroke="#bcbcbc" stroke-width="1"/>
<line x1="498.00" y1="186.50" x2="683.50" y2="186.50" stroke="#9c9c9c" stroke-width="1"/>
<line x1="683.50" y1="1.00" x2="683.50" y2="186.50" stroke="#9c9c9c" stroke-width="1"/>
<text x="498.00" y="197.70" class="tk" text-anchor="middle">0</text>
<text x="535.10" y="197.70" class="tk" text-anchor="middle">0.2</text>
<text x="572.20" y="197.70" class="tk" text-anchor="middle">0.4</text>
<text x="609.30" y="197.70" class="tk" text-anchor="middle">0.6</text>
<text x="646.40" y="197.70" class="tk" text-anchor="middle">0.8</text>
<text x="683.50" y="197.70" class="tk" text-anchor="middle">1</text>
<text x="494.80" y="189.40" class="tk" text-anchor="end">0</text>
<text x="494.80" y="152.30" class="tk" text-anchor="end">0.2</text>
<text x="494.80" y="115.20" class="tk" text-anchor="end">0.4</text>
<text x="494.80" y="78.10" class="tk" text-anchor="end">0.6</text>
<text x="494.80" y="41.00" class="tk" text-anchor="end">0.8</text>
<text x="494.80" y="6.60" class="tk" text-anchor="end">1</text>
<text transform="translate(585.75,208.80) scale(1.15,1)" class="rho">&#x3C1;</text>
<text x="592.65" y="211.50" class="rsub">e</text>
<text transform="translate(478.50,93.75) rotate(-90)" class="yl" text-anchor="middle">E<tspan class="sub" dy="2.9" dx="-1.3">e</tspan></text>
<line x1="64.10" y1="231.00" x2="64.10" y2="416.50" stroke="#e8e8e8" stroke-width="1.1"/>
<line x1="101.20" y1="231.00" x2="101.20" y2="416.50" stroke="#e8e8e8" stroke-width="1.1"/>
<line x1="138.30" y1="231.00" x2="138.30" y2="416.50" stroke="#e8e8e8" stroke-width="1.1"/>
<line x1="175.40" y1="231.00" x2="175.40" y2="416.50" stroke="#e8e8e8" stroke-width="1.1"/>
<line x1="27.00" y1="390.00" x2="212.50" y2="390.00" stroke="#e8e8e8" stroke-width="1.1"/>
<line x1="27.00" y1="363.50" x2="212.50" y2="363.50" stroke="#e8e8e8" stroke-width="1.1"/>
<line x1="27.00" y1="337.00" x2="212.50" y2="337.00" stroke="#e8e8e8" stroke-width="1.1"/>
<line x1="27.00" y1="310.50" x2="212.50" y2="310.50" stroke="#e8e8e8" stroke-width="1.1"/>
<line x1="27.00" y1="284.00" x2="212.50" y2="284.00" stroke="#e8e8e8" stroke-width="1.1"/>
<line x1="27.00" y1="257.50" x2="212.50" y2="257.50" stroke="#e8e8e8" stroke-width="1.1"/>
<path d="M27.00 416.50v-3.2M27.00 231.00v3.2M36.27 416.50v-1.9M36.27 231.00v1.9M45.55 416.50v-1.9M45.55 231.00v1.9M54.83 416.50v-1.9M54.83 231.00v1.9M64.10 416.50v-3.2M64.10 231.00v3.2M73.38 416.50v-1.9M73.38 231.00v1.9M82.65 416.50v-1.9M82.65 231.00v1.9M91.92 416.50v-1.9M91.92 231.00v1.9M101.20 416.50v-3.2M101.20 231.00v3.2M110.48 416.50v-1.9M110.48 231.00v1.9M119.75 416.50v-1.9M119.75 231.00v1.9M129.03 416.50v-1.9M129.03 231.00v1.9M138.30 416.50v-3.2M138.30 231.00v3.2M147.57 416.50v-1.9M147.57 231.00v1.9M156.85 416.50v-1.9M156.85 231.00v1.9M166.12 416.50v-1.9M166.12 231.00v1.9M175.40 416.50v-3.2M175.40 231.00v3.2M184.67 416.50v-1.9M184.67 231.00v1.9M193.95 416.50v-1.9M193.95 231.00v1.9M203.22 416.50v-1.9M203.22 231.00v1.9M212.50 416.50v-3.2M212.50 231.00v3.2M27.00 403.25h1.9M212.50 403.25h-1.9M27.00 376.75h1.9M212.50 376.75h-1.9M27.00 350.25h1.9M212.50 350.25h-1.9M27.00 323.75h1.9M212.50 323.75h-1.9M27.00 297.25h1.9M212.50 297.25h-1.9M27.00 270.75h1.9M212.50 270.75h-1.9M27.00 244.25h1.9M212.50 244.25h-1.9M27.00 416.50h3.2M212.50 416.50h-3.2M27.00 390.00h3.2M212.50 390.00h-3.2M27.00 363.50h3.2M212.50 363.50h-3.2M27.00 337.00h3.2M212.50 337.00h-3.2M27.00 310.50h3.2M212.50 310.50h-3.2M27.00 284.00h3.2M212.50 284.00h-3.2M27.00 257.50h3.2M212.50 257.50h-3.2M27.00 231.00h3.2M212.50 231.00h-3.2" stroke="#7c7c7c" stroke-width="0.9" fill="none"/>
<polyline points="27.00,342.30 27.52,343.10 28.04,343.89 28.56,344.68 29.08,345.47 29.60,346.25 30.12,347.03 30.64,347.80 31.16,348.57 31.68,349.33 32.20,350.09 32.72,350.85 33.24,351.60 33.75,352.34 34.27,353.08 34.79,353.82 35.31,354.55 35.83,355.28 36.35,356.00 36.87,356.72 37.39,357.44 37.91,358.14 38.43,358.85 38.95,359.55 39.47,360.25 39.99,360.94 40.51,361.63 41.03,362.31 41.55,362.99 42.07,363.66 42.59,364.33 43.11,364.99 43.63,365.65 44.15,366.31 44.67,366.96 45.19,367.61 45.71,368.25 46.23,368.89 46.75,369.52 47.26,370.15 47.78,370.77 48.30,371.39 48.82,372.01 49.34,372.62 49.86,373.23 50.38,373.83 50.90,374.43 51.42,375.02 51.94,375.61 52.46,376.19 52.98,376.77 53.50,377.34 54.02,377.92 54.54,378.48 55.06,379.04 55.58,379.60 56.10,380.15 56.62,380.70 57.14,381.24 57.66,381.78 58.18,382.32 58.70,382.85 59.22,383.37 59.74,383.89 60.25,384.41 60.77,384.92 61.29,385.43 61.81,385.93 62.33,386.43 62.85,386.92 63.37,387.41 63.89,387.90 64.41,388.38 64.93,388.86 65.45,389.33 65.97,389.79 66.49,390.26 67.01,390.72 67.53,391.17 68.05,391.62 68.57,392.06 69.09,392.50 69.61,392.94 70.13,393.37 70.65,393.80 71.17,394.22 71.69,394.64 72.21,395.05 72.73,395.46 73.25,395.86 73.76,396.26 74.28,396.66 74.80,397.05 75.32,397.43 75.84,397.82 76.36,398.19 76.88,398.57 77.40,398.93 77.92,399.30 78.44,399.66 78.96,400.01 79.48,400.36 80.00,400.71 80.52,401.05 81.04,401.39 81.56,401.72 82.08,402.05 82.60,402.37 83.12,402.69 83.64,403.00 84.16,403.31 84.68,403.62 85.20,403.92 85.72,404.22 86.24,404.51 86.75,404.80 87.27,405.08 87.79,405.36 88.31,405.63 88.83,405.90" fill="none" stroke="#25912b" stroke-width="1.35" stroke-linejoin="round" stroke-linecap="butt"/>
<polyline points="88.83,405.90 89.35,406.16 89.87,406.43 90.39,406.68 90.91,406.93 91.43,407.18 91.95,407.42 92.47,407.66 92.99,407.89 93.51,408.12 94.03,408.35 94.55,408.57 95.07,408.78 95.59,408.99 96.11,409.20 96.63,409.40 97.15,409.60 97.67,409.79 98.19,409.98 98.71,410.17 99.23,410.35 99.75,410.52 100.26,410.69 100.78,410.86 101.30,411.02 101.82,411.18 102.34,411.33 102.86,411.48 103.38,411.62 103.90,411.76 104.42,411.90 104.94,412.03 105.46,412.15 105.98,412.27 106.50,412.39 107.02,412.50 107.54,412.61 108.06,412.71 108.58,412.81 109.10,412.91 109.62,413.00 110.14,413.08 110.66,413.16 111.18,413.24 111.70,413.31 112.22,413.38 112.74,413.44 113.25,413.50 113.77,413.55 114.29,413.60 114.81,413.65 115.33,413.69 115.85,413.72 116.37,413.76 116.89,413.78 117.41,413.80 117.93,413.82 118.45,413.84 118.97,413.84 119.49,413.85 120.01,413.85 120.53,413.84 121.05,413.84 121.57,413.82 122.09,413.80 122.61,413.78 123.13,413.76 123.65,413.72 124.17,413.69 124.69,413.65 125.21,413.60 125.73,413.55 126.25,413.50 126.76,413.44 127.28,413.38 127.80,413.31 128.32,413.24 128.84,413.16 129.36,413.08 129.88,413.00 130.40,412.91 130.92,412.81 131.44,412.71 131.96,412.61 132.48,412.50 133.00,412.39 133.52,412.27 134.04,412.15 134.56,412.03 135.08,411.90 135.60,411.76 136.12,411.62 136.64,411.48 137.16,411.33 137.68,411.18 138.20,411.02 138.72,410.86 139.24,410.69 139.75,410.52 140.27,410.35 140.79,410.17 141.31,409.98 141.83,409.79 142.35,409.60 142.87,409.40 143.39,409.20 143.91,408.99 144.43,408.78 144.95,408.57 145.47,408.35 145.99,408.12 146.51,407.89 147.03,407.66 147.55,407.42 148.07,407.18 148.59,406.93 149.11,406.68 149.63,406.43 150.15,406.16 150.67,405.90" fill="none" stroke="#ff2424" stroke-width="1.35" stroke-linejoin="round" stroke-linecap="butt"/>
<polyline points="150.67,405.90 151.19,405.63 151.71,405.36 152.23,405.08 152.75,404.80 153.26,404.51 153.78,404.22 154.30,403.92 154.82,403.62 155.34,403.31 155.86,403.00 156.38,402.69 156.90,402.37 157.42,402.05 157.94,401.72 158.46,401.39 158.98,401.05 159.50,400.71 160.02,400.36 160.54,400.01 161.06,399.66 161.58,399.30 162.10,398.93 162.62,398.57 163.14,398.19 163.66,397.82 164.18,397.43 164.70,397.05 165.22,396.66 165.74,396.26 166.25,395.86 166.77,395.46 167.29,395.05 167.81,394.64 168.33,394.22 168.85,393.80 169.37,393.37 169.89,392.94 170.41,392.50 170.93,392.06 171.45,391.62 171.97,391.17 172.49,390.72 173.01,390.26 173.53,389.79 174.05,389.33 174.57,388.86 175.09,388.38 175.61,387.90 176.13,387.41 176.65,386.92 177.17,386.43 177.69,385.93 178.21,385.43 178.73,384.92 179.25,384.41 179.76,383.89 180.28,383.37 180.80,382.85 181.32,382.32 181.84,381.78 182.36,381.24 182.88,380.70 183.40,380.15 183.92,379.60 184.44,379.04 184.96,378.48 185.48,377.92 186.00,377.34 186.52,376.77 187.04,376.19 187.56,375.61 188.08,375.02 188.60,374.43 189.12,373.83 189.64,373.23 190.16,372.62 190.68,372.01 191.20,371.39 191.72,370.77 192.24,370.15 192.75,369.52 193.27,368.89 193.79,368.25 194.31,367.61 194.83,366.96 195.35,366.31 195.87,365.65 196.39,364.99 196.91,364.33 197.43,363.66 197.95,362.99 198.47,362.31 198.99,361.63 199.51,360.94 200.03,360.25 200.55,359.55 201.07,358.85 201.59,358.14 202.11,357.44 202.63,356.72 203.15,356.00 203.67,355.28 204.19,354.55 204.71,353.82 205.23,353.08 205.75,352.34 206.26,351.60 206.78,350.85 207.30,350.09 207.82,349.33 208.34,348.57 208.86,347.80 209.38,347.03 209.90,346.25 210.42,345.47 210.94,344.68 211.46,343.89 211.98,343.10 212.50,342.30" fill="none" stroke="#2323f5" stroke-width="1.35" stroke-linejoin="round" stroke-linecap="butt"/>
<line x1="27.00" y1="231.00" x2="212.50" y2="231.00" stroke="#bcbcbc" stroke-width="1"/>
<line x1="27.00" y1="231.00" x2="27.00" y2="416.50" stroke="#bcbcbc" stroke-width="1"/>
<line x1="27.00" y1="416.50" x2="212.50" y2="416.50" stroke="#9c9c9c" stroke-width="1"/>
<line x1="212.50" y1="231.00" x2="212.50" y2="416.50" stroke="#9c9c9c" stroke-width="1"/>
<text x="27.00" y="427.70" class="tk" text-anchor="middle">0</text>
<text x="64.10" y="427.70" class="tk" text-anchor="middle">0.2</text>
<text x="101.20" y="427.70" class="tk" text-anchor="middle">0.4</text>
<text x="138.30" y="427.70" class="tk" text-anchor="middle">0.6</text>
<text x="175.40" y="427.70" class="tk" text-anchor="middle">0.8</text>
<text x="212.50" y="427.70" class="tk" text-anchor="middle">1</text>
<text x="23.80" y="419.40" class="tk" text-anchor="end">0.5</text>
<text x="23.80" y="392.90" class="tk" text-anchor="end">1</text>
<text x="23.80" y="366.40" class="tk" text-anchor="end">1.5</text>
<text x="23.80" y="339.90" class="tk" text-anchor="end">2</text>
<text x="23.80" y="286.90" class="tk" text-anchor="end">3</text>
<text x="23.80" y="260.40" class="tk" text-anchor="end">3.5</text>
<text x="23.80" y="236.60" class="tk" text-anchor="end">4</text>
<text transform="translate(114.75,438.80) scale(1.15,1)" class="rho">&#x3C1;</text>
<text x="121.65" y="441.50" class="rsub">e</text>
<text transform="translate(11.40,323.75) rotate(-90)" class="yl yd" text-anchor="middle">&#x2202;E<tspan class="sub" dy="2">e</tspan><tspan dy="-2">/&#x2202;&#x3C1;</tspan><tspan class="sub" dy="2">e</tspan></text>
<line x1="299.70" y1="231.00" x2="299.70" y2="416.50" stroke="#e8e8e8" stroke-width="1.1"/>
<line x1="336.90" y1="231.00" x2="336.90" y2="416.50" stroke="#e8e8e8" stroke-width="1.1"/>
<line x1="374.10" y1="231.00" x2="374.10" y2="416.50" stroke="#e8e8e8" stroke-width="1.1"/>
<line x1="411.30" y1="231.00" x2="411.30" y2="416.50" stroke="#e8e8e8" stroke-width="1.1"/>
<line x1="262.50" y1="370.12" x2="448.50" y2="370.12" stroke="#e8e8e8" stroke-width="1.1"/>
<line x1="262.50" y1="323.75" x2="448.50" y2="323.75" stroke="#e8e8e8" stroke-width="1.1"/>
<line x1="262.50" y1="277.38" x2="448.50" y2="277.38" stroke="#e8e8e8" stroke-width="1.1"/>
<path d="M262.50 416.50v-3.2M262.50 231.00v3.2M271.80 416.50v-1.9M271.80 231.00v1.9M281.10 416.50v-1.9M281.10 231.00v1.9M290.40 416.50v-1.9M290.40 231.00v1.9M299.70 416.50v-3.2M299.70 231.00v3.2M309.00 416.50v-1.9M309.00 231.00v1.9M318.30 416.50v-1.9M318.30 231.00v1.9M327.60 416.50v-1.9M327.60 231.00v1.9M336.90 416.50v-3.2M336.90 231.00v3.2M346.20 416.50v-1.9M346.20 231.00v1.9M355.50 416.50v-1.9M355.50 231.00v1.9M364.80 416.50v-1.9M364.80 231.00v1.9M374.10 416.50v-3.2M374.10 231.00v3.2M383.40 416.50v-1.9M383.40 231.00v1.9M392.70 416.50v-1.9M392.70 231.00v1.9M402.00 416.50v-1.9M402.00 231.00v1.9M411.30 416.50v-3.2M411.30 231.00v3.2M420.60 416.50v-1.9M420.60 231.00v1.9M429.90 416.50v-1.9M429.90 231.00v1.9M439.20 416.50v-1.9M439.20 231.00v1.9M448.50 416.50v-3.2M448.50 231.00v3.2M262.50 407.23h1.9M448.50 407.23h-1.9M262.50 397.95h1.9M448.50 397.95h-1.9M262.50 388.68h1.9M448.50 388.68h-1.9M262.50 379.40h1.9M448.50 379.40h-1.9M262.50 360.85h1.9M448.50 360.85h-1.9M262.50 351.57h1.9M448.50 351.57h-1.9M262.50 342.30h1.9M448.50 342.30h-1.9M262.50 333.02h1.9M448.50 333.02h-1.9M262.50 314.48h1.9M448.50 314.48h-1.9M262.50 305.20h1.9M448.50 305.20h-1.9M262.50 295.93h1.9M448.50 295.93h-1.9M262.50 286.65h1.9M448.50 286.65h-1.9M262.50 268.10h1.9M448.50 268.10h-1.9M262.50 258.82h1.9M448.50 258.82h-1.9M262.50 249.55h1.9M448.50 249.55h-1.9M262.50 240.27h1.9M448.50 240.27h-1.9M262.50 416.50h3.2M448.50 416.50h-3.2M262.50 370.12h3.2M448.50 370.12h-3.2M262.50 323.75h3.2M448.50 323.75h-3.2M262.50 277.38h3.2M448.50 277.38h-3.2M262.50 231.00h3.2M448.50 231.00h-3.2" stroke="#7c7c7c" stroke-width="0.9" fill="none"/>
<polyline points="262.50,416.50 263.02,416.49 263.54,416.45 264.06,416.39 264.58,416.31 265.11,416.21 265.63,416.08 266.15,415.92 266.67,415.75 267.19,415.55 267.71,415.32 268.23,415.07 268.75,414.80 269.27,414.51 269.79,414.19 270.32,413.85 270.84,413.48 271.36,413.09 271.88,412.68 272.40,412.24 272.92,411.78 273.44,411.30 273.96,410.79 274.48,410.26 275.00,409.71 275.53,409.13 276.05,408.53 276.57,407.91 277.09,407.26 277.61,406.59 278.13,405.89 278.65,405.17 279.17,404.43 279.69,403.66 280.21,402.87 280.74,402.06 281.26,401.22 281.78,400.36 282.30,399.48 282.82,398.57 283.34,397.64 283.86,396.68 284.38,395.70 284.90,394.70 285.42,393.68 285.95,392.63 286.47,391.55 286.99,390.46 287.51,389.34 288.03,388.19 288.55,387.03 289.07,385.84 289.59,384.62 290.11,383.38 290.63,382.12 291.16,380.84 291.68,379.53 292.20,378.20 292.72,376.84 293.24,375.46 293.76,374.06 294.28,372.63 294.80,371.18 295.32,369.71 295.84,368.21 296.37,366.69 296.89,365.15 297.41,363.58 297.93,361.99 298.45,360.37 298.97,358.73 299.49,357.07 300.01,355.38 300.53,353.67 301.05,351.94 301.58,350.18 302.10,348.40 302.62,346.60 303.14,344.77 303.66,342.92 304.18,341.05 304.70,339.15 305.22,337.23 305.74,335.28 306.26,333.31 306.79,331.32 307.31,329.31 307.83,327.27 308.35,325.20 308.87,323.12 309.39,321.01 309.91,318.87 310.43,316.71 310.95,314.53 311.47,312.33 312.00,310.10 312.52,307.85 313.04,305.57 313.56,303.27 314.08,300.95 314.60,298.61 315.12,296.24 315.64,293.84 316.16,291.43 316.68,288.99 317.21,286.52 317.73,284.03 318.25,281.52 318.77,278.99 319.29,276.43 319.81,273.85 320.33,271.24 320.85,268.61 321.37,265.96 321.89,263.28 322.42,260.58 322.94,257.86 323.46,255.11 323.98,252.34 324.50,249.55" fill="none" stroke="#25912b" stroke-width="1.35" stroke-linejoin="round" stroke-linecap="butt"/>
<polyline points="324.50,416.50 325.02,416.49 325.54,416.48 326.06,416.45 326.58,416.41 327.11,416.35 327.63,416.29 328.15,416.21 328.67,416.12 329.19,416.02 329.71,415.91 330.23,415.79 330.75,415.65 331.27,415.50 331.79,415.34 332.32,415.17 332.84,414.99 333.36,414.80 333.88,414.59 334.40,414.37 334.92,414.14 335.44,413.90 335.96,413.65 336.48,413.38 337.00,413.10 337.53,412.82 338.05,412.52 338.57,412.20 339.09,411.88 339.61,411.54 340.13,411.19 340.65,410.84 341.17,410.46 341.69,410.08 342.21,409.69 342.74,409.28 343.26,408.86 343.78,408.43 344.30,407.99 344.82,407.53 345.34,407.07 345.86,406.59 346.38,406.10 346.90,405.60 347.42,405.09 347.95,404.56 348.47,404.03 348.99,403.48 349.51,402.92 350.03,402.35 350.55,401.76 351.07,401.17 351.59,400.56 352.11,399.94 352.63,399.31 353.16,398.67 353.68,398.01 354.20,397.35 354.72,396.67 355.24,395.98 355.76,395.28 356.28,394.57 356.80,393.84 357.32,393.10 357.84,392.36 358.37,391.59 358.89,390.82 359.41,390.04 359.93,389.24 360.45,388.44 360.97,387.62 361.49,386.78 362.01,385.94 362.53,385.09 363.05,384.22 363.58,383.34 364.10,382.45 364.62,381.55 365.14,380.64 365.66,379.71 366.18,378.77 366.70,377.82 367.22,376.86 367.74,375.89 368.26,374.91 368.79,373.91 369.31,372.90 369.83,371.88 370.35,370.85 370.87,369.81 371.39,368.75 371.91,367.69 372.43,366.61 372.95,365.52 373.47,364.41 374.00,363.30 374.52,362.17 375.04,361.04 375.56,359.89 376.08,358.73 376.60,357.55 377.12,356.37 377.64,355.17 378.16,353.96 378.68,352.74 379.21,351.51 379.73,350.27 380.25,349.01 380.77,347.74 381.29,346.46 381.81,345.17 382.33,343.87 382.85,342.56 383.37,341.23 383.89,339.89 384.42,338.54 384.94,337.18 385.46,335.81 385.98,334.42 386.50,333.02" fill="none" stroke="#ff2424" stroke-width="1.35" stroke-linejoin="round" stroke-linecap="butt"/>
<polyline points="386.50,416.50 387.02,416.49 387.54,416.45 388.06,416.39 388.58,416.31 389.11,416.21 389.63,416.08 390.15,415.92 390.67,415.75 391.19,415.55 391.71,415.32 392.23,415.07 392.75,414.80 393.27,414.51 393.79,414.19 394.32,413.85 394.84,413.48 395.36,413.09 395.88,412.68 396.40,412.24 396.92,411.78 397.44,411.30 397.96,410.79 398.48,410.26 399.00,409.71 399.53,409.13 400.05,408.53 400.57,407.91 401.09,407.26 401.61,406.59 402.13,405.89 402.65,405.17 403.17,404.43 403.69,403.66 404.21,402.87 404.74,402.06 405.26,401.22 405.78,400.36 406.30,399.48 406.82,398.57 407.34,397.64 407.86,396.68 408.38,395.70 408.90,394.70 409.42,393.68 409.95,392.63 410.47,391.55 410.99,390.46 411.51,389.34 412.03,388.19 412.55,387.03 413.07,385.84 413.59,384.62 414.11,383.38 414.63,382.12 415.16,380.84 415.68,379.53 416.20,378.20 416.72,376.84 417.24,375.46 417.76,374.06 418.28,372.63 418.80,371.18 419.32,369.71 419.84,368.21 420.37,366.69 420.89,365.15 421.41,363.58 421.93,361.99 422.45,360.37 422.97,358.73 423.49,357.07 424.01,355.38 424.53,353.67 425.05,351.94 425.58,350.18 426.10,348.40 426.62,346.60 427.14,344.77 427.66,342.92 428.18,341.05 428.70,339.15 429.22,337.23 429.74,335.28 430.26,333.31 430.79,331.32 431.31,329.31 431.83,327.27 432.35,325.20 432.87,323.12 433.39,321.01 433.91,318.87 434.43,316.71 434.95,314.53 435.47,312.33 436.00,310.10 436.52,307.85 437.04,305.57 437.56,303.27 438.08,300.95 438.60,298.61 439.12,296.24 439.64,293.84 440.16,291.43 440.68,288.99 441.21,286.52 441.73,284.03 442.25,281.52 442.77,278.99 443.29,276.43 443.81,273.85 444.33,271.24 444.85,268.61 445.37,265.96 445.89,263.28 446.42,260.58 446.94,257.86 447.46,255.11 447.98,252.34 448.50,249.55" fill="none" stroke="#2323f5" stroke-width="1.35" stroke-linejoin="round" stroke-linecap="butt"/>
<line x1="262.50" y1="231.00" x2="448.50" y2="231.00" stroke="#bcbcbc" stroke-width="1"/>
<line x1="262.50" y1="231.00" x2="262.50" y2="416.50" stroke="#c4c4c4" stroke-width="1"/>
<line x1="262.50" y1="416.50" x2="448.50" y2="416.50" stroke="#9c9c9c" stroke-width="1"/>
<line x1="448.50" y1="231.00" x2="448.50" y2="416.50" stroke="#9c9c9c" stroke-width="1"/>
<text x="262.50" y="427.70" class="tk" text-anchor="middle">0</text>
<text x="299.70" y="427.70" class="tk" text-anchor="middle">0.2</text>
<text x="336.90" y="427.70" class="tk" text-anchor="middle">0.4</text>
<text x="374.10" y="427.70" class="tk" text-anchor="middle">0.6</text>
<text x="411.30" y="427.70" class="tk" text-anchor="middle">0.8</text>
<text x="448.50" y="427.70" class="tk" text-anchor="middle">1</text>
<text x="259.30" y="419.40" class="tk" text-anchor="end">0</text>
<text x="259.30" y="373.02" class="tk" text-anchor="end">1</text>
<text x="259.30" y="326.65" class="tk" text-anchor="end">2</text>
<text x="259.30" y="280.27" class="tk" text-anchor="end">3</text>
<text x="259.30" y="236.60" class="tk" text-anchor="end">4</text>
<text transform="translate(350.50,438.80) scale(1.15,1)" class="rho">&#x3C1;</text>
<text x="357.40" y="441.50" class="rsub">e</text>
<text transform="translate(248.90,323.75) rotate(-90)" class="yl yd" text-anchor="middle">&#x2202;E<tspan class="sub" dy="2">e</tspan><tspan dy="-2">/&#x2202;&#x3C1;</tspan><tspan class="sub" dy="2">e</tspan></text>
<line x1="535.10" y1="231.00" x2="535.10" y2="416.50" stroke="#e8e8e8" stroke-width="1.1"/>
<line x1="572.20" y1="231.00" x2="572.20" y2="416.50" stroke="#e8e8e8" stroke-width="1.1"/>
<line x1="609.30" y1="231.00" x2="609.30" y2="416.50" stroke="#e8e8e8" stroke-width="1.1"/>
<line x1="646.40" y1="231.00" x2="646.40" y2="416.50" stroke="#e8e8e8" stroke-width="1.1"/>
<line x1="498.00" y1="370.12" x2="683.50" y2="370.12" stroke="#e8e8e8" stroke-width="1.1"/>
<line x1="498.00" y1="323.75" x2="683.50" y2="323.75" stroke="#e8e8e8" stroke-width="1.1"/>
<line x1="498.00" y1="277.38" x2="683.50" y2="277.38" stroke="#e8e8e8" stroke-width="1.1"/>
<path d="M498.00 416.50v-3.2M498.00 231.00v3.2M507.27 416.50v-1.9M507.27 231.00v1.9M516.55 416.50v-1.9M516.55 231.00v1.9M525.83 416.50v-1.9M525.83 231.00v1.9M535.10 416.50v-3.2M535.10 231.00v3.2M544.38 416.50v-1.9M544.38 231.00v1.9M553.65 416.50v-1.9M553.65 231.00v1.9M562.92 416.50v-1.9M562.92 231.00v1.9M572.20 416.50v-3.2M572.20 231.00v3.2M581.48 416.50v-1.9M581.48 231.00v1.9M590.75 416.50v-1.9M590.75 231.00v1.9M600.02 416.50v-1.9M600.02 231.00v1.9M609.30 416.50v-3.2M609.30 231.00v3.2M618.58 416.50v-1.9M618.58 231.00v1.9M627.85 416.50v-1.9M627.85 231.00v1.9M637.12 416.50v-1.9M637.12 231.00v1.9M646.40 416.50v-3.2M646.40 231.00v3.2M655.67 416.50v-1.9M655.67 231.00v1.9M664.95 416.50v-1.9M664.95 231.00v1.9M674.23 416.50v-1.9M674.23 231.00v1.9M683.50 416.50v-3.2M683.50 231.00v3.2M498.00 407.23h1.9M683.50 407.23h-1.9M498.00 397.95h1.9M683.50 397.95h-1.9M498.00 388.68h1.9M683.50 388.68h-1.9M498.00 379.40h1.9M683.50 379.40h-1.9M498.00 360.85h1.9M683.50 360.85h-1.9M498.00 351.57h1.9M683.50 351.57h-1.9M498.00 342.30h1.9M683.50 342.30h-1.9M498.00 333.02h1.9M683.50 333.02h-1.9M498.00 314.48h1.9M683.50 314.48h-1.9M498.00 305.20h1.9M683.50 305.20h-1.9M498.00 295.93h1.9M683.50 295.93h-1.9M498.00 286.65h1.9M683.50 286.65h-1.9M498.00 268.10h1.9M683.50 268.10h-1.9M498.00 258.82h1.9M683.50 258.82h-1.9M498.00 249.55h1.9M683.50 249.55h-1.9M498.00 240.27h1.9M683.50 240.27h-1.9M498.00 416.50h3.2M683.50 416.50h-3.2M498.00 370.12h3.2M683.50 370.12h-3.2M498.00 323.75h3.2M683.50 323.75h-3.2M498.00 277.38h3.2M683.50 277.38h-3.2M498.00 231.00h3.2M683.50 231.00h-3.2" stroke="#7c7c7c" stroke-width="0.9" fill="none"/>
<polyline points="498.00,414.09 498.21,414.04 498.41,413.99 498.62,413.94 498.83,413.89 499.03,413.83 499.24,413.78 499.45,413.73 499.65,413.68 499.86,413.63 500.07,413.57 500.27,413.52 500.48,413.46 500.69,413.41 500.90,413.35 501.10,413.29 501.31,413.23 501.52,413.17 501.72,413.11 501.93,413.05 502.14,412.98 502.34,412.92 502.55,412.85 502.76,412.78 502.96,412.71 503.17,412.64 503.38,412.56 503.58,412.49 503.79,412.41 504.00,412.33 504.20,412.25 504.41,412.16 504.62,412.08 504.82,411.99 505.03,411.90 505.24,411.81 505.44,411.72 505.65,411.62 505.86,411.52 506.07,411.42 506.27,411.32 506.48,411.21 506.69,411.11 506.89,411.00 507.10,410.89 507.31,410.77 507.51,410.66 507.72,410.54 507.93,410.42 508.13,410.30 508.34,410.17 508.55,410.05 508.75,409.92 508.96,409.79 509.17,409.66 509.37,409.53 509.58,409.40 509.79,409.27 509.99,409.13 510.20,409.00 510.41,408.87 510.61,408.73 510.82,408.60 511.03,408.46 511.24,408.32 511.44,408.18 511.65,408.03 511.86,407.88 512.06,407.72 512.27,407.56 512.48,407.40 512.68,407.23 512.89,407.05 513.10,406.88 513.30,406.69 513.51,406.50 513.72,406.31 513.92,406.12 514.13,405.91 514.34,405.71 514.54,405.50 514.75,405.28 514.96,405.06 515.16,404.84 515.37,404.61 515.58,404.38 515.78,404.15 515.99,403.91 516.20,403.66 516.41,403.41 516.61,403.16 516.82,402.90 517.03,402.64 517.23,402.37 517.44,402.10 517.65,401.83 517.85,401.54 518.06,401.25 518.27,400.96 518.47,400.65 518.68,400.34 518.89,400.03 519.09,399.70 519.30,399.37 519.51,399.03 519.71,398.68 519.92,398.33 520.13,397.96 520.33,397.59 520.54,397.20 520.75,396.81 520.95,396.41 521.16,396.00 521.37,395.58 521.58,395.16 521.78,394.72 521.99,394.28 522.20,393.81 522.40,393.33 522.61,392.83 522.82,392.32 523.02,391.79 523.23,391.26 523.44,390.71 523.64,390.15 523.85,389.58 524.06,389.00 524.26,388.42 524.47,387.83 524.68,387.23 524.88,386.62 525.09,386.02 525.30,385.41 525.50,384.79 525.71,384.17 525.92,383.56 526.12,382.94 526.33,382.32 526.54,381.71 526.75,381.09 526.95,380.47 527.16,379.85 527.37,379.24 527.57,378.62 527.78,378.00 527.99,377.37 528.19,376.75 528.40,376.12 528.61,375.50 528.81,374.87 529.02,374.24 529.23,373.60 529.43,372.96 529.64,372.32 529.85,371.68 530.05,371.03 530.26,370.38 530.47,369.73 530.67,369.07 530.88,368.40 531.09,367.73 531.29,367.06 531.50,366.37 531.71,365.69 531.92,364.99 532.12,364.29 532.33,363.58 532.54,362.86 532.74,362.13 532.95,361.40 533.16,360.65 533.36,359.90 533.57,359.13 533.78,358.36 533.98,357.57 534.19,356.77 534.40,355.96 534.60,355.14 534.81,354.31 535.02,353.47 535.22,352.62 535.43,351.76 535.64,350.89 535.84,350.01 536.05,349.12 536.26,348.22 536.46,347.31 536.67,346.40 536.88,345.49 537.09,344.57 537.29,343.65 537.50,342.73 537.71,341.81 537.91,340.89 538.12,339.97 538.33,339.06 538.53,338.15 538.74,337.25 538.95,336.34 539.15,335.43 539.36,334.52 539.57,333.61 539.77,332.71 539.98,331.80 540.19,330.90 540.39,330.00 540.60,329.11 540.81,328.22 541.01,327.34 541.22,326.46 541.43,325.59 541.63,324.72 541.84,323.87 542.05,323.03 542.26,322.19 542.46,321.36 542.67,320.54 542.88,319.73 543.08,318.93 543.29,318.13 543.50,317.34 543.70,316.55 543.91,315.78 544.12,315.00 544.32,314.23 544.53,313.47 544.74,312.71 544.94,311.96 545.15,311.21 545.36,310.47 545.56,309.75 545.77,309.04 545.98,308.34 546.18,307.67 546.39,307.02 546.60,306.39 546.80,305.78 547.01,305.21 547.22,304.65 547.43,304.14 547.63,303.65 547.84,303.19 548.05,302.75 548.25,302.34 548.46,301.94 548.67,301.57 548.87,301.21 549.08,300.86 549.29,300.53 549.49,300.20 549.70,299.89 549.91,299.58 550.11,299.27 550.32,298.98 550.53,299.03 550.73,299.09 550.94,299.16 551.15,299.25 551.35,299.37 551.56,299.51 551.77,299.70 551.97,299.92 552.18,300.21 552.39,300.55 552.60,300.93 552.80,301.42 553.01,301.96 553.22,302.58 553.42,303.31 553.63,304.09 553.84,305.00 554.04,305.99 554.25,307.03 554.46,308.19 554.66,309.40 554.87,310.66 555.08,312.01 555.28,313.39 555.49,314.83 555.70,316.33 555.90,317.86 556.11,319.47 556.32,321.13 556.52,322.83 556.73,324.62 556.94,326.44 557.14,328.33 557.35,330.28 557.56,332.27 557.77,334.32 557.97,336.41 558.18,338.54 558.39,340.73 558.59,342.94 558.80,345.19 559.01,347.47 559.21,349.76 559.42,352.08 559.63,354.41 559.83,356.80" fill="none" stroke="#25912b" stroke-width="1.35" stroke-linejoin="round" stroke-linecap="butt"/>
<polyline points="559.83,356.80 560.04,359.76 560.25,362.69 560.45,365.59 560.66,368.38 560.87,371.10 561.07,373.71 561.28,376.17 561.49,378.53 561.69,380.75 561.90,382.80 562.11,384.75 562.31,386.52 562.52,388.17 562.73,389.73 562.94,391.12 563.14,392.43 563.35,393.66 563.56,394.74 563.76,395.77 563.97,396.73 564.18,397.59 564.38,398.40 564.59,399.15 564.80,399.84 565.00,400.50 565.21,401.11 565.42,401.69 565.62,402.25 565.83,402.78 566.04,403.30 566.24,403.80 566.45,404.26 566.66,404.71 566.86,405.15 567.07,405.55 567.28,405.93 567.48,406.30 567.69,406.63 567.90,406.95 568.11,407.25 568.31,407.52 568.52,407.78 568.73,408.01 568.93,408.22 569.14,408.42 569.35,408.59 569.55,408.75 569.76,408.90 569.97,409.03 570.17,409.14 570.38,409.25 570.59,409.34 570.79,409.42 571.00,409.49 571.21,409.55 571.41,409.61 571.62,409.65 571.83,409.69 572.03,409.72 572.24,409.74 572.45,409.76 572.65,409.78 572.86,409.79 573.07,409.79 573.28,409.79 573.48,409.79 573.69,409.79 573.90,409.79 574.10,409.78 574.31,409.76 574.52,409.71 574.72,409.67 574.93,409.62 575.14,409.57 575.34,409.52 575.55,409.48 575.76,409.43 575.96,409.38 576.17,409.33 576.38,409.27 576.58,409.22 576.79,409.17 577.00,409.11 577.20,409.05 577.41,409.00 577.62,408.93 577.82,408.87 578.03,408.81 578.24,408.74 578.45,408.67 578.65,408.60 578.86,408.53 579.07,408.46 579.27,408.38 579.48,408.30 579.69,408.21 579.89,408.12 580.10,408.02 580.31,407.91 580.51,407.80 580.72,407.68 580.93,407.55 581.13,407.43 581.34,407.29 581.55,407.16 581.75,407.02 581.96,406.87 582.17,406.73 582.37,406.58 582.58,406.44 582.79,406.29 582.99,406.14 583.20,405.98 583.41,405.82 583.62,405.66 583.82,405.50 584.03,405.33 584.24,405.16 584.44,404.99 584.65,404.80 584.86,404.62 585.06,404.43 585.27,404.24 585.48,404.04 585.68,403.83 585.89,403.62 586.10,403.40 586.30,403.18 586.51,402.95 586.72,402.72 586.92,402.48 587.13,402.24 587.34,401.99 587.54,401.74 587.75,401.48 587.96,401.22 588.16,400.95 588.37,400.68 588.58,400.40 588.79,400.12 588.99,399.84 589.20,399.55 589.41,399.25 589.61,398.96 589.82,398.66 590.03,398.35 590.23,398.04 590.44,397.73 590.65,397.41 590.85,397.10 591.06,396.77 591.27,396.44 591.47,396.11 591.68,395.78 591.89,395.44 592.09,395.10 592.30,394.75 592.51,394.40 592.71,394.05 592.92,393.69 593.13,393.33 593.34,392.96 593.54,392.59 593.75,392.21 593.96,391.83 594.16,391.45 594.37,391.06 594.58,390.67 594.78,390.27 594.99,389.87 595.20,389.46 595.40,389.05 595.61,388.63 595.82,388.21 596.02,387.79 596.23,387.35 596.44,386.92 596.64,386.48 596.85,386.04 597.06,385.59 597.26,385.14 597.47,384.69 597.68,384.24 597.88,383.78 598.09,383.32 598.30,382.86 598.51,382.39 598.71,381.92 598.92,381.46 599.13,380.99 599.33,380.52 599.54,380.04 599.75,379.57 599.95,379.10 600.16,378.63 600.37,378.15 600.57,377.68 600.78,377.21 600.99,376.74 601.19,376.27 601.40,375.80 601.61,375.33 601.81,374.86 602.02,374.40 602.23,373.93 602.43,373.47 602.64,373.01 602.85,372.55 603.05,372.10 603.26,371.64 603.47,371.19 603.68,370.74 603.88,370.30 604.09,369.85 604.30,369.41 604.50,368.98 604.71,368.54 604.92,368.11 605.12,367.69 605.33,367.27 605.54,366.85 605.74,366.44 605.95,366.04 606.16,365.64 606.36,365.25 606.57,364.87 606.78,364.50 606.98,364.13 607.19,363.78 607.40,363.43 607.60,363.10 607.81,362.78 608.02,362.47 608.22,362.16 608.43,361.88 608.64,361.61 608.85,361.34 609.05,361.10 609.26,360.86 609.47,360.62 609.67,360.41 609.88,360.20 610.09,359.99 610.29,359.80 610.50,359.61 610.71,359.42 610.91,359.25 611.12,359.07 611.33,358.90 611.53,358.74 611.74,358.57 611.95,358.41 612.15,358.25 612.36,358.17 612.57,358.19 612.77,358.21 612.98,358.24 613.19,358.27 613.39,358.32 613.60,358.37 613.81,358.44 614.02,358.53 614.22,358.63 614.43,358.76 614.64,358.91 614.84,359.07 615.05,359.28 615.26,359.50 615.46,359.75 615.67,360.05 615.88,360.36 616.08,360.73 616.29,361.12 616.50,361.54 616.70,362.02 616.91,362.52 617.12,363.05 617.32,363.64 617.53,364.26 617.74,364.91 617.94,365.61 618.15,366.34 618.36,367.12 618.56,367.95 618.77,368.80 618.98,369.71 619.19,370.65 619.39,371.64 619.60,372.69 619.81,373.78 620.01,374.93 620.22,376.15 620.43,377.41 620.63,378.72 620.84,380.07 621.05,381.44 621.25,382.85 621.46,384.27 621.67,385.70" fill="none" stroke="#ff2424" stroke-width="1.35" stroke-linejoin="round" stroke-linecap="butt"/>
<polyline points="621.67,385.70 621.87,386.90 622.08,388.07 622.29,389.23 622.49,390.37 622.70,391.49 622.91,392.57 623.11,393.61 623.32,394.63 623.53,395.58 623.73,396.48 623.94,397.33 624.15,398.11 624.36,398.86 624.56,399.54 624.77,400.19 624.98,400.81 625.18,401.39 625.39,401.94 625.60,402.47 625.80,402.96 626.01,403.42 626.22,403.86 626.42,404.26 626.63,404.65 626.84,405.00 627.04,405.32 627.25,405.63 627.46,405.90 627.66,406.16 627.87,406.39 628.08,406.60 628.28,406.80 628.49,406.97 628.70,407.12 628.90,407.27 629.11,407.39 629.32,407.50 629.53,407.60 629.73,407.69 629.94,407.77 630.15,407.84 630.35,407.90 630.56,407.95 630.77,408.00 630.97,408.04 631.18,408.08 631.39,408.12 631.59,408.14 631.80,408.03 632.01,407.93 632.21,407.83 632.42,407.72 632.63,407.62 632.83,407.52 633.04,407.41 633.25,407.30 633.45,407.20 633.66,407.09 633.87,406.97 634.07,406.86 634.28,406.75 634.49,406.63 634.70,406.51 634.90,406.39 635.11,406.27 635.32,406.14 635.52,406.01 635.73,405.88 635.94,405.75 636.14,405.61 636.35,405.47 636.56,405.32 636.76,405.18 636.97,405.02 637.18,404.87 637.38,404.71 637.59,404.54 637.80,404.38 638.00,404.20 638.21,404.03 638.42,403.84 638.62,403.66 638.83,403.46 639.04,403.27 639.24,403.06 639.45,402.86 639.66,402.64 639.87,402.42 640.07,402.20 640.28,401.97 640.49,401.73 640.69,401.49 640.90,401.24 641.11,400.98 641.31,400.72 641.52,400.45 641.73,400.17 641.93,399.89 642.14,399.60 642.35,399.30 642.55,398.99 642.76,398.68 642.97,398.36 643.17,398.03 643.38,397.70 643.59,397.35 643.79,397.00 644.00,396.64 644.21,396.27 644.41,395.89 644.62,395.51 644.83,395.12 645.04,394.72 645.24,394.32 645.45,393.91 645.66,393.49 645.86,393.06 646.07,392.63 646.28,392.19 646.48,391.74 646.69,391.29 646.90,390.83 647.10,390.36 647.31,389.88 647.52,389.40 647.72,388.92 647.93,388.42 648.14,387.92 648.34,387.42 648.55,386.91 648.76,386.40 648.96,385.88 649.17,385.35 649.38,384.83 649.58,384.29 649.79,383.76 650.00,383.22 650.21,382.69 650.41,382.15 650.62,381.60 650.83,381.06 651.03,380.52 651.24,379.97 651.45,379.43 651.65,378.89 651.86,378.34 652.07,377.80 652.27,377.26 652.48,376.72 652.69,376.18 652.89,375.64 653.10,375.09 653.31,374.54 653.51,373.98 653.72,373.42 653.93,372.84 654.13,372.26 654.34,371.67 654.55,371.06 654.75,370.43 654.96,369.80 655.17,369.14 655.38,368.46 655.58,367.77 655.79,367.05 656.00,366.31 656.20,365.55 656.41,364.76 656.62,363.94 656.82,363.10 657.03,362.22 657.24,361.32 657.44,360.41 657.65,359.47 657.86,358.52 658.06,357.56 658.27,356.60 658.48,355.64 658.68,354.67 658.89,353.72 659.10,352.78 659.30,351.84 659.51,350.94 659.72,350.05 659.92,349.18 660.13,348.32 660.34,347.48 660.55,346.64 660.75,345.79 660.96,344.94 661.17,344.08 661.37,343.20 661.58,342.30 661.79,341.39 661.99,340.45 662.20,339.49 662.41,338.51 662.61,337.51 662.82,336.50 663.03,335.47 663.23,334.42 663.44,333.37 663.65,332.31 663.85,331.25 664.06,330.19 664.27,329.13 664.47,328.09 664.68,327.05 664.89,326.03 665.09,325.03 665.30,324.05 665.51,323.09 665.72,322.16 665.92,321.24 666.13,320.35 666.34,319.47 666.54,318.61 666.75,317.76 666.96,316.93 667.16,316.10 667.37,315.28 667.58,314.46 667.78,313.65 667.99,312.83 668.20,312.02 668.40,311.20 668.61,310.38 668.82,309.56 669.02,308.73 669.23,307.89 669.44,307.06 669.64,306.22 669.85,305.38 670.06,304.54 670.26,303.71 670.47,302.87 670.68,302.04 670.89,301.21 671.09,300.39 671.30,299.57 671.51,298.76 671.71,297.95 671.92,297.17 672.13,296.39 672.33,295.63 672.54,294.89 672.75,294.17 672.95,293.49 673.16,292.84 673.37,292.21 673.57,291.63 673.78,291.09 673.99,290.57 674.19,290.11 674.40,289.68 674.61,289.28 674.81,288.92 675.02,288.58 675.23,288.27 675.43,287.98 675.64,287.72 675.85,287.47 676.06,287.25 676.26,287.03 676.47,286.83 676.68,286.64 676.88,286.46 677.09,286.28 677.30,286.11 677.50,286.07 677.71,286.12 677.92,286.22 678.12,286.33 678.33,286.47 678.54,286.64 678.74,286.83 678.95,287.05 679.16,287.28 679.36,287.53 679.57,287.79 679.78,288.07 679.98,288.36 680.19,288.65 680.40,288.96 680.60,289.27 680.81,289.58 681.02,289.95 681.23,290.35 681.43,290.79 681.64,291.29 681.85,291.81 682.05,292.37 682.26,292.96 682.47,293.57 682.67,294.23 682.88,294.89 683.09,295.58 683.29,296.28 683.50,296.99" fill="none" stroke="#2323f5" stroke-width="1.35" stroke-linejoin="round" stroke-linecap="butt"/>
<line x1="498.00" y1="231.00" x2="683.50" y2="231.00" stroke="#bcbcbc" stroke-width="1"/>
<line x1="498.00" y1="231.00" x2="498.00" y2="416.50" stroke="#bcbcbc" stroke-width="1"/>
<line x1="498.00" y1="416.50" x2="683.50" y2="416.50" stroke="#9c9c9c" stroke-width="1"/>
<line x1="683.50" y1="231.00" x2="683.50" y2="416.50" stroke="#9c9c9c" stroke-width="1"/>
<text x="498.00" y="427.70" class="tk" text-anchor="middle">0</text>
<text x="535.10" y="427.70" class="tk" text-anchor="middle">0.2</text>
<text x="572.20" y="427.70" class="tk" text-anchor="middle">0.4</text>
<text x="609.30" y="427.70" class="tk" text-anchor="middle">0.6</text>
<text x="646.40" y="427.70" class="tk" text-anchor="middle">0.8</text>
<text x="683.50" y="427.70" class="tk" text-anchor="middle">1</text>
<text x="494.80" y="419.40" class="tk" text-anchor="end">0</text>
<text x="494.80" y="373.02" class="tk" text-anchor="end">1</text>
<text x="494.80" y="326.65" class="tk" text-anchor="end">2</text>
<text x="494.80" y="280.27" class="tk" text-anchor="end">3</text>
<text x="494.80" y="236.60" class="tk" text-anchor="end">4</text>
<text transform="translate(585.75,438.80) scale(1.15,1)" class="rho">&#x3C1;</text>
<text x="592.65" y="441.50" class="rsub">e</text>
<text transform="translate(484.40,323.75) rotate(-90)" class="yl yd" text-anchor="middle">&#x2202;E<tspan class="sub" dy="2">e</tspan><tspan dy="-2">/&#x2202;&#x3C1;</tspan><tspan class="sub" dy="2">e</tspan></text>
<rect x="132.8" y="137.2" width="74.1" height="45.1" fill="#fff" stroke="#a0a0a0" stroke-width="1"/>
<line x1="144" y1="148.6" x2="158.2" y2="148.6" stroke="#25912b" stroke-width="1.35"/>
<text x="169.7" y="152.00" class="lg">Mat. 1</text>
<line x1="144" y1="160.1" x2="158.2" y2="160.1" stroke="#ff2424" stroke-width="1.35"/>
<text x="169.7" y="163.50" class="lg">Mat. 2</text>
<line x1="144" y1="171.4" x2="158.2" y2="171.4" stroke="#2323f5" stroke-width="1.35"/>
<text x="169.7" y="174.80" class="lg">Mat. 3</text>
<text x="26.0" y="465.9" class="cap" textLength="167.4" lengthAdjust="spacingAndGlyphs">(a) Polynomial fitting</text>
<text x="261.2" y="465.9" class="cap" textLength="167.1" lengthAdjust="spacingAndGlyphs">(b) Modf. ordr. SIMP</text>
<text x="506.3" y="465.9" class="cap" textLength="147.3" lengthAdjust="spacingAndGlyphs">(c) Smth. sngl. var.</text>
</svg>
</body></html>
